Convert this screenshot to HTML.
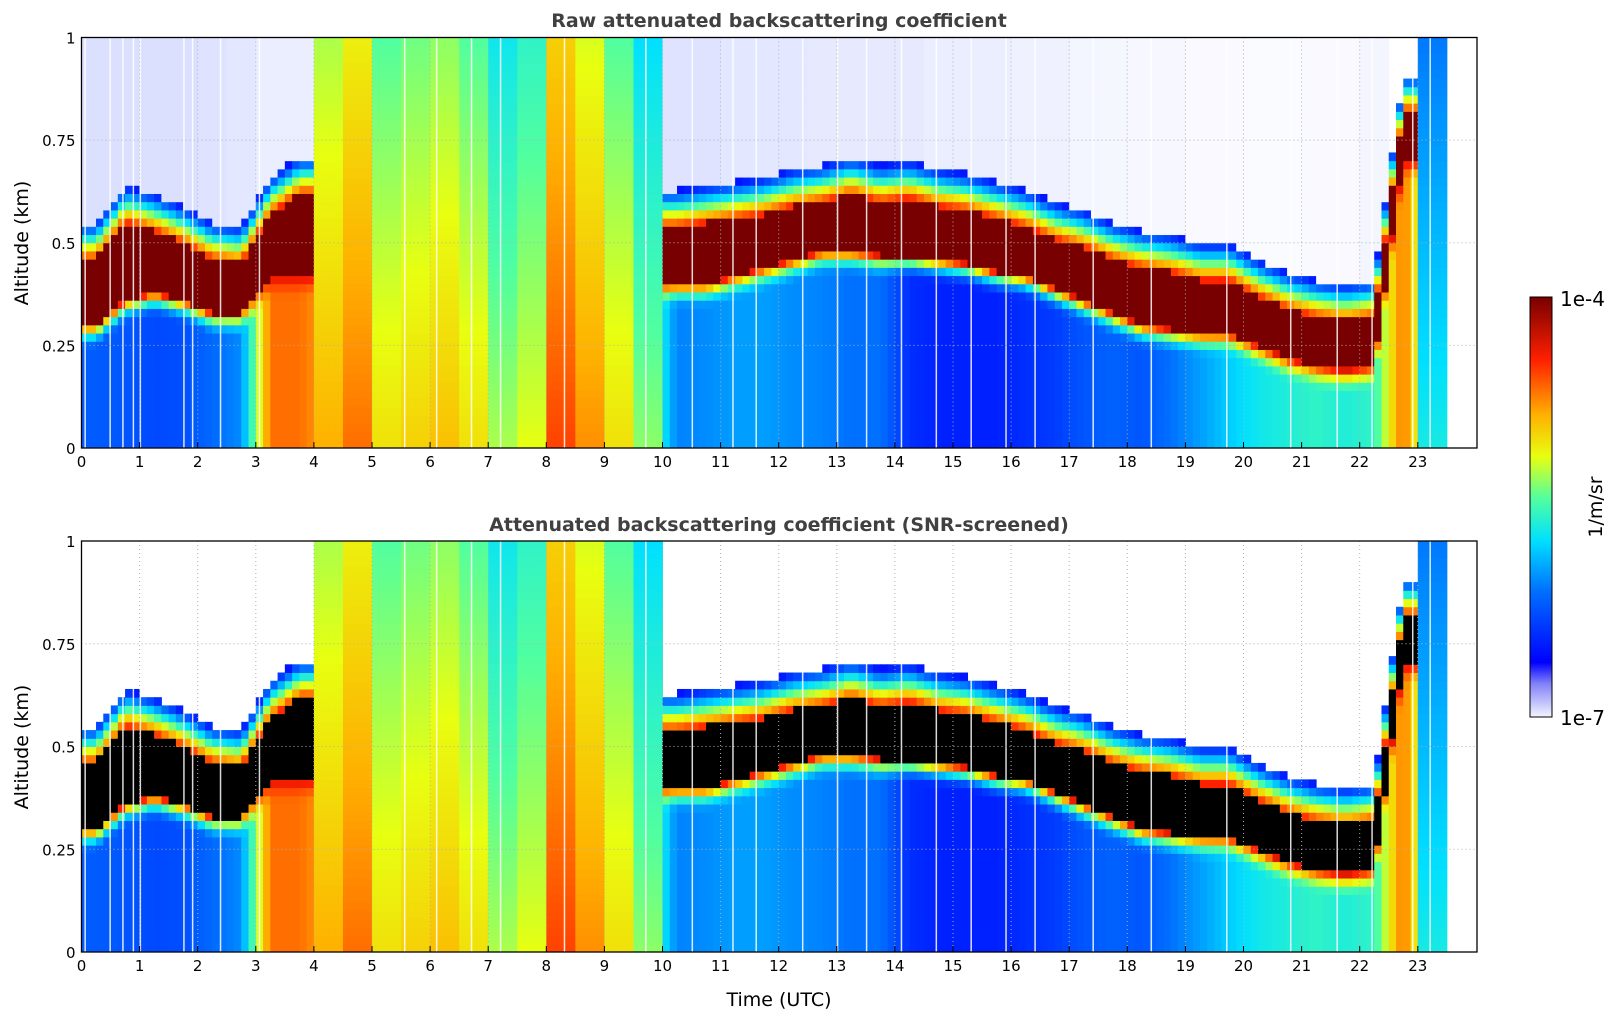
<!DOCTYPE html>
<html><head><meta charset="utf-8"><style>
html,body{margin:0;padding:0;background:#fff;}
svg{display:block;font-family:"DejaVu Sans","Liberation Sans",sans-serif;}
</style></head><body>
<svg id="fig" width="1621" height="1020" xmlns="http://www.w3.org/2000/svg">
<defs>
<linearGradient id="cbg" x1="0" y1="1" x2="0" y2="0">
<stop offset="0" stop-color="#f4f4ff"/><stop offset="0.08" stop-color="#8080f8"/><stop offset="0.13" stop-color="#0000ff"/>
<stop offset="0.3" stop-color="#0070ff"/><stop offset="0.42" stop-color="#00e0ff"/><stop offset="0.52" stop-color="#50ffa0"/>
<stop offset="0.62" stop-color="#e8ff10"/><stop offset="0.72" stop-color="#ffb000"/><stop offset="0.85" stop-color="#ff2000"/>
<stop offset="1" stop-color="#780000"/>
</linearGradient>
</defs>
<g id="top-plot"></g>
<g id="bot-plot"></g>
<text x="779" y="27" text-anchor="middle" font-size="19" font-weight="bold" fill="#404040">Raw attenuated backscattering coefficient</text>
<text x="779" y="531" text-anchor="middle" font-size="19" font-weight="bold" fill="#404040">Attenuated backscattering coefficient (SNR-screened)</text>
<text transform="translate(28,243) rotate(-90)" text-anchor="middle" font-size="19">Altitude (km)</text>
<text transform="translate(28,747) rotate(-90)" text-anchor="middle" font-size="19">Altitude (km)</text>
<text x="779" y="1006" text-anchor="middle" font-size="19">Time (UTC)</text>
<g>
<rect x="1530" y="297" width="22" height="420" fill="url(#cbg)" stroke="#000" stroke-width="1"/>
<text x="1560" y="306" font-size="20">1e-4</text>
<text x="1560" y="725" font-size="20">1e-7</text>
<text transform="translate(1602,507) rotate(-90)" text-anchor="middle" font-size="19">1/m/sr</text>
</g>
</svg>
<script>
// 0.5 h bins starting at these times (UTC)
const times = [0,0.5,1,1.5,2,2.5,3,3.5,4,4.5,5,5.5,6,6.5,7,7.5,8,8.5,9,9.5,10,10.5,11,11.5,12,12.5,13,13.5,14,14.5,15,15.5,16,16.5,17,17.5,18,18.5,19,19.5,20,20.5,21,21.5,22,22.5,23];
// cloud base / top altitude (km); null = precipitation column, no defined layer
const cloudBase = [0.30,0.36,0.38,0.36,0.33,0.33,0.42,0.42,null,null,null,null,null,null,null,null,null,null,null,null,0.40,0.40,0.42,0.44,0.46,0.48,0.48,0.47,0.47,0.46,0.45,0.43,0.42,0.39,0.36,0.33,0.30,0.29,0.28,0.28,0.25,0.22,0.20,0.19,0.20,0.70,null];
const cloudTop  = [0.46,0.55,0.53,0.50,0.46,0.45,0.57,0.62,null,null,null,null,null,null,null,null,null,null,null,null,0.54,0.55,0.56,0.57,0.59,0.60,0.62,0.60,0.61,0.59,0.58,0.56,0.54,0.51,0.49,0.46,0.44,0.43,0.41,0.41,0.37,0.34,0.32,0.31,0.32,0.82,null];
// near-surface signal level on colour scale (0 = 1e-7, 1 = 1e-4)
const surfaceLevel = [0.27,0.26,0.24,0.25,0.29,0.33,0.78,0.78,0.72,0.78,0.66,0.68,0.70,0.66,0.58,0.62,0.82,0.75,0.66,0.56,0.32,0.33,0.35,0.35,0.33,0.32,0.30,0.30,0.20,0.18,0.18,0.18,0.20,0.22,0.26,0.28,0.26,0.30,0.35,0.40,0.44,0.46,0.48,0.46,0.48,0.78,0.45];
// noise density above cloud in raw panel (0..1)
const noiseLevel = [0.45,0.45,0.45,0.45,0.4,0.35,0.25,0.25,0,0,0,0,0,0,0,0,0,0,0,0,0.4,0.4,0.35,0.35,0.35,0.3,0.3,0.3,0.3,0.25,0.25,0.25,0.2,0.2,0.15,0.12,0.1,0.1,0.08,0.08,0.06,0.06,0.08,0.08,0.15,0,0];
const gapTimes = [0.05,0.48,0.7,0.88,1.0,1.75,1.9,2.38,3.05,5.55,6.1,6.7,7.2,8.3,9.7,10.5,11.2,11.6,12.4,13.0,13.5,14.1,14.7,15.3,15.9,16.4,17.4,18.4,19.7,20.8,21.6,22.2,22.9,23.2];
const xTicks = [0,1,2,3,4,5,6,7,8,9,10,11,12,13,14,15,16,17,18,19,20,21,22,23];
const yTicks = [0,0.25,0.5,0.75,1];
const yTickLabels = ["0","0.25","0.5","0.75","1"];

const NS="http://www.w3.org/2000/svg";
const X0=81.5, PX_PER_H=58.1, X1=1477, BIN=0.5, SUB=4, FRINGE=0.09;
const panels=[{g:'top-plot',y0:448,y1:37.5,screen:false},{g:'bot-plot',y0:952,y1:541,screen:true}];
const stops=[[0,[244,244,255]],[0.08,[128,128,248]],[0.13,[0,0,255]],[0.3,[0,112,255]],[0.42,[0,224,255]],[0.52,[80,255,160]],[0.62,[232,255,16]],[0.72,[255,176,0]],[0.85,[255,32,0]],[1,[120,0,0]]];
function cmap(v){v=Math.max(0,Math.min(1,v));for(let k=1;k<stops.length;k++){if(v<=stops[k][0]){const a=stops[k-1],b=stops[k],f=(v-a[0])/(b[0]-a[0]);const c=a[1].map((x,j)=>Math.round(x+(b[1][j]-x)*f));return `rgb(${c[0]},${c[1]},${c[2]})`;}}return 'rgb(120,0,0)';}
function xs(t){return X0+t*PX_PER_H;}
function interp(arr,i,f){
  const v=arr[i]; if(v===null) return null;
  const c=f-0.5; const j=c<0?i-1:i+1;
  if(j<0||j>=arr.length||arr[j]===null) return v;
  return v+(arr[j]-v)*Math.abs(c);
}
function cellColor(b,tp,s,n,a,screen){
  if(b===null){return cmap(s-0.14*a);}
  if(a>=b&&a<tp) return screen?'#000':cmap(1);
  if(a<b){const r=Math.max(0,1-(b-a)/0.06);return cmap(s+(0.9-s)*r*r);}
  const d=a-tp;
  if(d<FRINGE) return cmap(0.85-0.7*(d/FRINGE));
  if(screen) return null;
  if(n<=0) return null;
  return `rgb(${Math.round(255-n*80)},${Math.round(255-n*70)},255)`;
}
const DA=0.02;
panels.forEach(p=>{
  const g=document.getElementById(p.g);
  const ys=a=>p.y0+(p.y1-p.y0)*a;
  const cells=document.createElementNS(NS,'g');
  
  
  g.appendChild(cells);
  times.forEach((t,i)=>{
    for(let k=0;k<SUB;k++){
      const f=(k+0.5)/SUB;
      const b=interp(cloudBase,i,f),tp=interp(cloudTop,i,f);
      const s=cloudBase[i]===null?surfaceLevel[i]:interp(surfaceLevel,i,f);
      const n=noiseLevel[i];
      const tx=t+BIN*k/SUB;
      for(let a=0;a<1-1e-9;a+=DA){
        const col=cellColor(b,tp,s,n,a+DA/2,p.screen); if(!col) continue;
        const r=document.createElementNS(NS,'rect');
        r.setAttribute('x',xs(tx));r.setAttribute('width',PX_PER_H*BIN/SUB+0.5);
        r.setAttribute('y',ys(a+DA));r.setAttribute('height',(p.y0-p.y1)*DA+0.5);
        r.setAttribute('fill',col);
        
        
        cells.appendChild(r);
      }
    }
  });
  gapTimes.forEach(t=>{
    const l=document.createElementNS(NS,'rect');
    l.setAttribute('x',xs(t));l.setAttribute('width',1.5);l.setAttribute('y',p.y1);l.setAttribute('height',p.y0-p.y1);
    l.setAttribute('fill','#fff');l.setAttribute('opacity','0.85');
    
    
    g.appendChild(l);
  });
  xTicks.forEach(t=>{
    const x=xs(t);
    const gl=document.createElementNS(NS,'line');
    gl.setAttribute('x1',x);gl.setAttribute('x2',x);gl.setAttribute('y1',p.y1);gl.setAttribute('y2',p.y0);
    gl.setAttribute('stroke','#b0b0b0');gl.setAttribute('stroke-dasharray','1,3');
    
    
    g.appendChild(gl);
    const tk=document.createElementNS(NS,'line');
    tk.setAttribute('x1',x);tk.setAttribute('x2',x);tk.setAttribute('y1',p.y0);tk.setAttribute('y2',p.y0-6);
    tk.setAttribute('stroke','#000');
    
    
    g.appendChild(tk);
    const tx=document.createElementNS(NS,'text');
    tx.setAttribute('x',x);tx.setAttribute('y',p.y0+19);tx.setAttribute('text-anchor','middle');tx.setAttribute('font-size','15');
    tx.textContent=t;
    
    
    g.appendChild(tx);
  });
  yTicks.forEach((a,k)=>{
    const y=ys(a);
    const gl=document.createElementNS(NS,'line');
    gl.setAttribute('x1',X0);gl.setAttribute('x2',X1);gl.setAttribute('y1',y);gl.setAttribute('y2',y);
    gl.setAttribute('stroke','#b0b0b0');gl.setAttribute('stroke-dasharray','1,3');
    
    
    g.appendChild(gl);
    const tx=document.createElementNS(NS,'text');
    tx.setAttribute('x',X0-6);tx.setAttribute('y',y+6);tx.setAttribute('text-anchor','end');tx.setAttribute('font-size','15');
    tx.textContent=yTickLabels[k];
    
    
    g.appendChild(tx);
  });
  const fr=document.createElementNS(NS,'rect');
  fr.setAttribute('x',X0);fr.setAttribute('y',p.y1);fr.setAttribute('width',X1-X0);fr.setAttribute('height',p.y0-p.y1);
  fr.setAttribute('fill','none');fr.setAttribute('stroke','#000');fr.setAttribute('stroke-width','1.3');
  
  
  g.appendChild(fr);
});
</script>
</body></html>
